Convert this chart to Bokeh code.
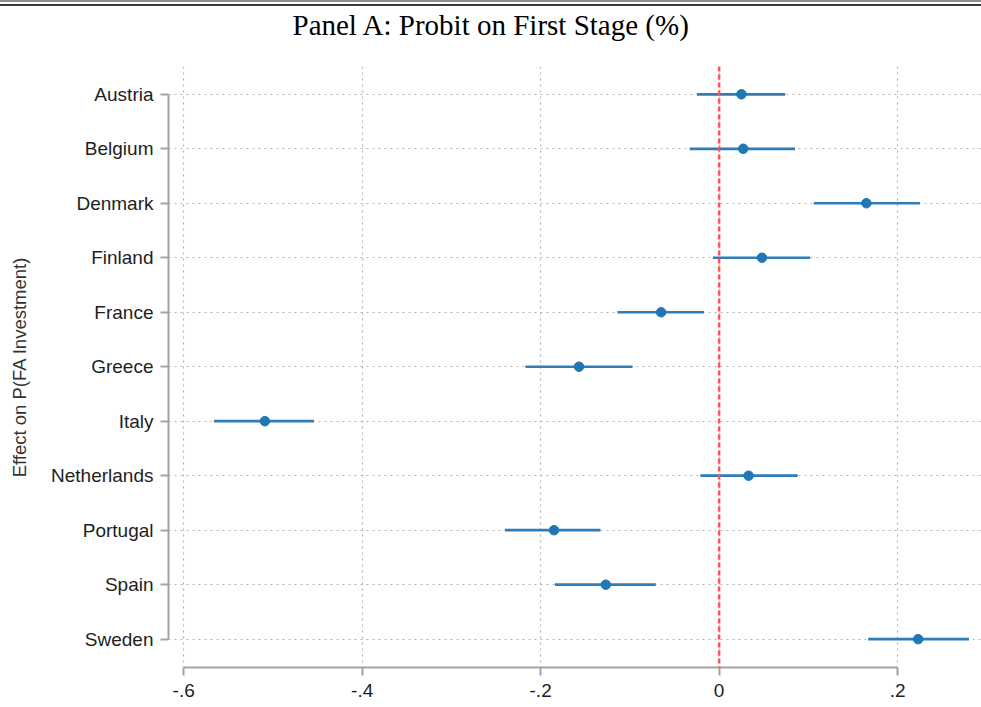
from bokeh.plotting import figure
from bokeh.models import Range1d, FixedTicker, Span, Div, ColumnDataSource, Title
from bokeh.layouts import column
from bokeh.embed import file_html
from bokeh.resources import INLINE

# ---- data ----
countries = ["Austria", "Belgium", "Denmark", "Finland", "France", "Greece",
             "Italy", "Netherlands", "Portugal", "Spain", "Sweden"]
coef = [0.025, 0.027, 0.165, 0.048, -0.065, -0.157, -0.509, 0.033, -0.185, -0.127, 0.223]
ci_low = [-0.025, -0.033, 0.106, -0.007, -0.114, -0.217, -0.566, -0.021, -0.240, -0.184, 0.167]
ci_high = [0.074, 0.085, 0.225, 0.102, -0.017, -0.097, -0.454, 0.088, -0.133, -0.071, 0.280]
x_ticks = [-0.6, -0.4, -0.2, 0.0, 0.2]
x_tick_labels = ["-.6", "-.4", "-.2", "0", ".2"]
title_text = "Panel A: Probit on First Stage (%)"
y_label = "Effect on P(FA Investment)"

ypos = [i + 1 for i in range(len(countries))]
src = ColumnDataSource(dict(y=ypos, coef=coef, lo=ci_low, hi=ci_high))

p = figure(width=981, height=701, output_backend="svg", toolbar_location=None,
           title=None,
           x_range=Range1d(-0.617, 0.294), y_range=Range1d(11.52, 0.49),
           min_border_left=168, min_border_right=0, min_border_top=60,
           min_border_bottom=40)
p.outline_line_color = None
p.background_fill_color = "white"
p.border_fill_color = "white"

# spacer between title and plot area, then the title itself (outermost)
p.add_layout(Title(text=" ", text_font_size="1px", standoff=22), "above")
p.add_layout(Title(text=title_text, text_font="Liberation Serif",
                   text_font_size="29px", text_font_style="normal",
                   text_color="black", align="left", offset=124, standoff=1),
             "above")

# grids
p.xgrid.ticker = FixedTicker(ticks=x_ticks)
p.ygrid.ticker = FixedTicker(ticks=ypos)
for g in (p.xgrid[0], p.ygrid[0]):
    g.grid_line_color = "#b4b4b4"
    g.grid_line_dash = "2 4"
    g.grid_line_width = 1.2

# axes
p.xaxis.ticker = FixedTicker(ticks=x_ticks)
p.xaxis.major_label_overrides = {t: l for t, l in zip(x_ticks, x_tick_labels)}
p.yaxis.ticker = FixedTicker(ticks=ypos)
p.yaxis.major_label_overrides = {y: c for y, c in zip(ypos, countries)}
p.xaxis.bounds = (x_ticks[0], x_ticks[-1])
p.yaxis.bounds = (ypos[0], ypos[-1])
for ax in (p.xaxis[0], p.yaxis[0]):
    ax.axis_line_color = "#a3a3a3"
    ax.axis_line_width = 2
    ax.major_tick_line_color = "#a3a3a3"
    ax.major_tick_line_width = 2
    ax.major_tick_in = 0
    ax.major_tick_out = 8
    ax.minor_tick_line_color = None
    ax.major_label_text_font = "Liberation Sans"
    ax.major_label_text_font_size = "19px"
    ax.major_label_text_color = "#1e1e1e"
p.xaxis.major_label_standoff = 8
p.yaxis.major_label_standoff = 7
p.yaxis.axis_label = y_label
p.yaxis.axis_label_text_font = "Liberation Sans"
p.yaxis.axis_label_text_font_size = "18.5px"
p.yaxis.axis_label_text_font_style = "normal"
p.yaxis.axis_label_text_color = "#333333"
p.yaxis.axis_label_standoff = 18

# zero line
p.add_layout(Span(location=0, dimension="height", line_color="#ff5252",
                  line_dash="5 3", line_width=2.5))

# CIs and points
p.segment(x0="lo", y0="y", x1="hi", y1="y", source=src,
          line_color="#2e7dbb", line_width=2.7)
p.scatter(x="coef", y="y", source=src, size=9.5, color="#1f77b4")

top = Div(width=981, height=6,
          styles={"border-top": "2px solid #8c8c8c",
                  "border-bottom": "2px solid #3c3c3c",
                  "box-sizing": "border-box", "height": "6px",
                  "margin": "0", "padding": "0"})
layout = column(top, p)

open("out.html", "w").write(file_html(layout, INLINE))
